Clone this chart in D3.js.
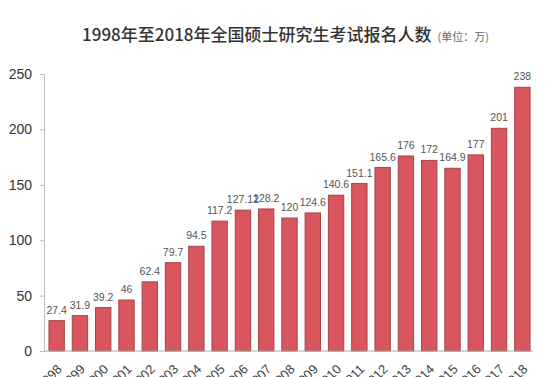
<!DOCTYPE html>
<html><head><meta charset="utf-8">
<script src="https://cdn.jsdelivr.net/npm/d3@7/dist/d3.min.js"></script>
<style>body{margin:0;background:#fff;}svg{display:block;}</style>
</head><body>
<script>
const years = ["1998","1999","2000","2001","2002","2003","2004","2005","2006","2007","2008","2009","2010","2011","2012","2013","2014","2015","2016","2017","2018"];
const values = [27.4,31.9,39.2,46,62.4,79.7,94.5,117.2,127.12,128.2,120,124.6,140.6,151.1,165.6,176,172,164.9,177,201,238];
const valueLabels = ["27.4","31.9","39.2","46","62.4","79.7","94.5","117.2","127.12","128.2","120","124.6","140.6","151.1","165.6","176","172","164.9","177","201","238"];
const yTicks = [0,50,100,150,200,250];
const title = "1998年至2018年全国硕士研究生考试报名人数";
const unit = "(单位：万)";

const W = 546, H = 377;
const svg = d3.select("body").append("svg").attr("width", W).attr("height", H);
const font = "'Liberation Sans', Arial, 'Noto Sans CJK SC', sans-serif";

const x = d3.scaleBand().domain(years).range([45, 534]).paddingInner(0.34).paddingOuter(0.17);
const y = d3.scaleLinear().domain([0, 250]).range([351, 74]);

// title
const t = svg.append("text").attr("x", 82).attr("y", 41)
  .attr("font-family", "'Noto Sans CJK SC', sans-serif").attr("font-size", 17)
  .attr("font-weight", 500).attr("fill", "#333");
t.append("tspan").text(title);
t.append("tspan").attr("dx", 6).attr("font-size", 11).attr("font-weight", 400).attr("fill", "#666").text(unit);

// y axis
const yAxis = svg.append("g").attr("transform", "translate(44,0)")
  .call(d3.axisLeft(y).tickValues(yTicks).tickSize(4).tickPadding(8));
yAxis.select(".domain").attr("stroke", "#bbb");
yAxis.selectAll(".tick line").attr("stroke", "#bbb");
yAxis.selectAll("text").attr("font-family", font).attr("font-size", 14).attr("fill", "#333");

// bars
svg.append("g").selectAll("rect").data(values).join("rect")
  .attr("x", (d, i) => x(years[i]))
  .attr("y", d => y(d))
  .attr("width", x.bandwidth())
  .attr("height", d => y(0) - y(d))
  .attr("fill", "#d9565f")
  .attr("stroke", "#a5424a")
  .attr("stroke-width", 1);

// x axis line
const xAxis = svg.append("g").attr("transform", "translate(0,351)")
  .call(d3.axisBottom(x).tickSize(0).tickPadding(0));
xAxis.select(".domain").attr("stroke", "#aaa").attr("d", "M44,0H533");
xAxis.selectAll(".tick text")
  .attr("font-family", font).attr("font-size", 13).attr("fill", "#444")
  .attr("text-anchor", "end")
  .attr("transform", "translate(6,19) rotate(-45)")
  .attr("dy", "0");

// value labels
svg.append("g").selectAll("text").data(values).join("text")
  .attr("x", (d, i) => x(years[i]) + x.bandwidth() / 2)
  .attr("y", d => y(d) - 7)
  .attr("text-anchor", "middle")
  .attr("font-family", font).attr("font-size", 10.5).attr("fill", "#555")
  .text((d, i) => valueLabels[i]);
</script>
</body></html>
